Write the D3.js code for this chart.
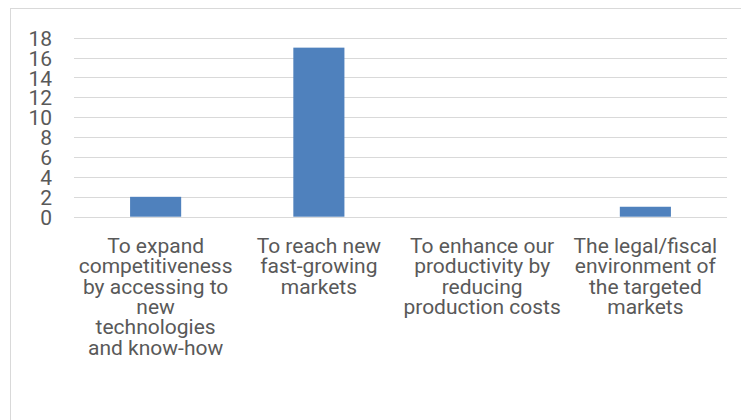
<!DOCTYPE html>
<html>
<head>
<meta charset="utf-8">
<script src="https://cdn.jsdelivr.net/npm/d3@7"></script>
<style>
  html, body { margin: 0; padding: 0; background: #ffffff; }
  svg { display: block; }
</style>
</head>
<body>
<svg id="chart" width="741" height="420"></svg>
<script>
// Reasons given (line breaks mark where each label wraps), with respondent counts
const categories = [
  "To expand\ncompetitiveness\nby accessing to\nnew\ntechnologies\nand know-how",
  "To reach new\nfast-growing\nmarkets",
  "To enhance our\nproductivity by\nreducing\nproduction costs",
  "The legal/fiscal\nenvironment of\nthe targeted\nmarkets"
];
const values = [2, 17, 0, 1];
const yTicks = [0, 2, 4, 6, 8, 10, 12, 14, 16, 18];

const W = 741, H = 420;
const plot = { left: 74, right: 727, top: 37.7, bottom: 216.7 };
const textColor = "#595959";
const gridColor = "#d9d9d9";
const barColor = "#4f81bd";
const font = "Roboto, 'Open Sans', sans-serif";
const fontSize = 21;
const lineStep = 20.3;

const svg = d3.select("#chart");

// chart frame
svg.append("rect")
  .attr("x", 10.5).attr("y", 8.5)
  .attr("width", W + 20).attr("height", H + 20)
  .attr("fill", "#ffffff")
  .attr("stroke", gridColor)
  .attr("stroke-width", 1);

const x = d3.scaleBand()
  .domain(categories)
  .range([plot.left, plot.right])
  .paddingInner(0.687)
  .paddingOuter(0.3435);

const y = d3.scaleLinear()
  .domain([0, 18])
  .range([plot.bottom, plot.top]);

// horizontal gridlines (the zero line doubles as the category axis)
svg.append("g")
  .selectAll("line")
  .data(yTicks)
  .join("line")
  .attr("x1", plot.left).attr("x2", plot.right)
  .attr("y1", d => Math.round(y(d)) + 0.5)
  .attr("y2", d => Math.round(y(d)) + 0.5)
  .attr("stroke", gridColor)
  .attr("stroke-width", 1.2);

// value axis labels
const yAxis = d3.axisLeft(y).tickValues(yTicks).tickSize(0).tickPadding(0);
const yAxisG = svg.append("g")
  .attr("transform", "translate(52,0)")
  .call(yAxis);
yAxisG.select(".domain").remove();
yAxisG.selectAll("text")
  .attr("fill", textColor)
  .attr("font-family", font)
  .attr("font-size", fontSize)
  .attr("dy", "0.36em");

// bars
svg.append("g")
  .selectAll("rect")
  .data(values)
  .join("rect")
  .attr("x", (d, i) => x(categories[i]))
  .attr("y", d => y(d))
  .attr("width", x.bandwidth())
  .attr("height", d => y(0) - y(d))
  .attr("fill", barColor);

// category labels, centred under each bar, one tspan per line
svg.append("g")
  .selectAll("text")
  .data(categories)
  .join("text")
  .attr("x", d => x(d) + x.bandwidth() / 2)
  .attr("y", 253)
  .attr("text-anchor", "middle")
  .attr("fill", textColor)
  .attr("font-family", font)
  .attr("font-size", fontSize)
  .each(function (d) {
    const el = d3.select(this);
    const cx = +el.attr("x");
    d.split("\n").forEach((line, i) => {
      el.append("tspan")
        .attr("x", cx)
        .attr("dy", i === 0 ? 0 : lineStep)
        .text(line);
    });
  });
</script>
</body>
</html>
